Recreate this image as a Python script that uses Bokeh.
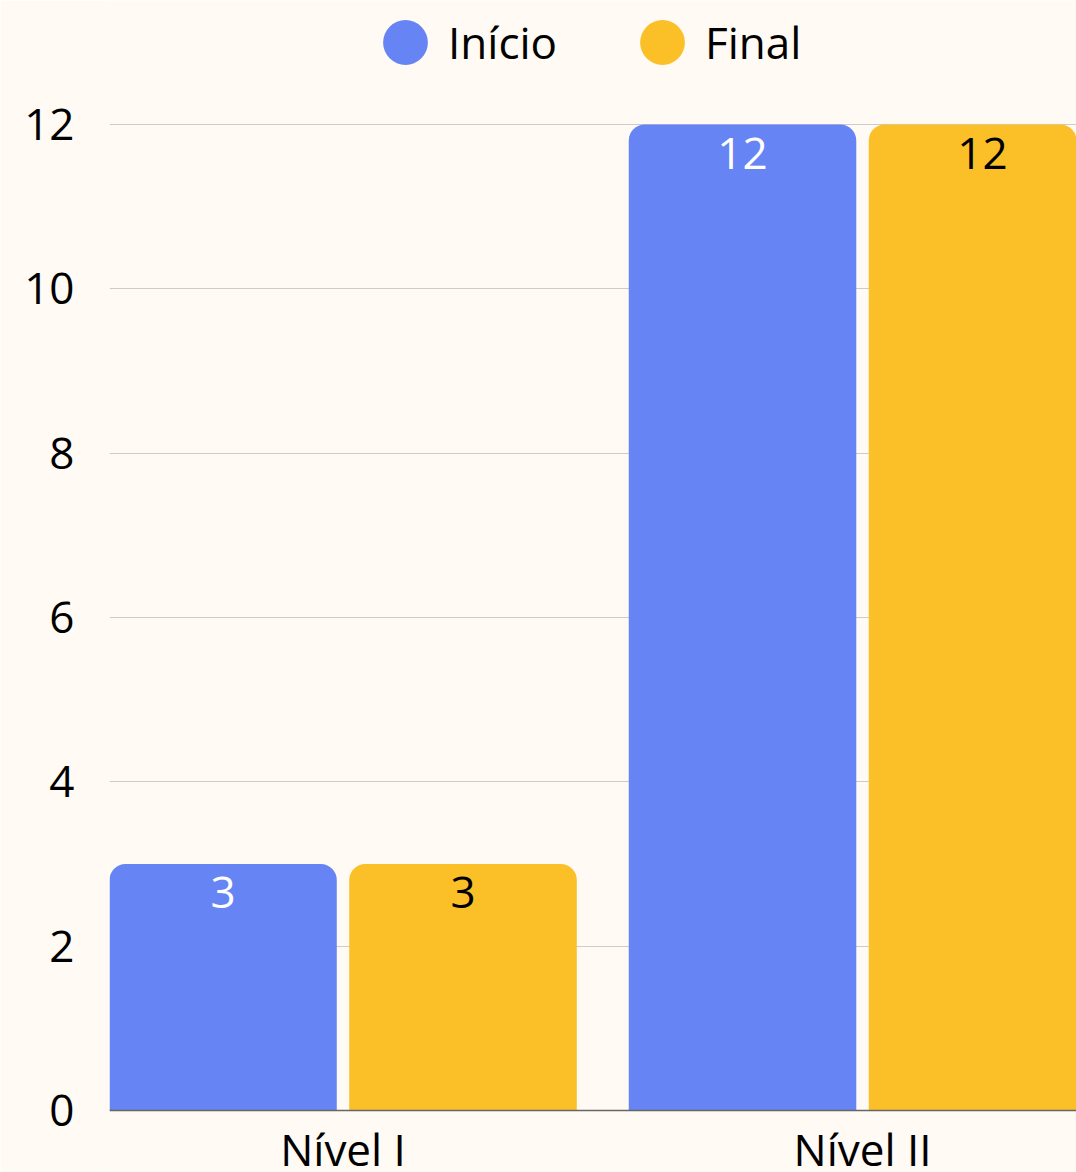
from bokeh.plotting import figure
from bokeh.models import (Range1d, FixedTicker, ColumnDataSource, Legend, LegendItem, Span)
from bokeh.core.properties import value
from bokeh.embed import file_html
from bokeh.resources import INLINE

# ---- data ----
categories = ["Nível I", "Nível II"]
inicio = [3, 12]
final = [3, 12]
series_names = ["Início", "Final"]
y_ticks = [0, 2, 4, 6, 8, 10, 12]

BLUE = "#6784F5"
YELLOW = "#FBBF28"
BG = "#FFFAF3"
FONT = "Open Sans"
FS = "44px"

centers = [i + 0.5 for i in range(len(categories))]
off = 0.231
bw = 0.438
x_inicio = [c - off for c in centers]
x_final = [c + off for c in centers]

p = figure(width=1076, height=1172, output_backend="svg", toolbar_location=None,
           x_range=Range1d(0.0505, 1.9119), y_range=Range1d(-0.7546, 13.509),
           x_axis_type=None, min_border_left=109, min_border_right=0,
           min_border_top=0, min_border_bottom=0)
p.background_fill_color = BG
p.border_fill_color = BG
p.outline_line_color = None
p.xgrid.visible = False
p.ygrid.ticker = FixedTicker(ticks=y_ticks)
p.ygrid.grid_line_color = "#CCCCCC"
p.ygrid.grid_line_width = 1

yax = p.yaxis[0]
yax.ticker = FixedTicker(ticks=y_ticks)
yax.axis_line_color = None
yax.major_tick_line_color = None
yax.minor_tick_line_color = None
yax.major_tick_out = 0
yax.major_tick_in = 0
yax.major_label_standoff = 35
yax.major_label_text_font = FONT
yax.major_label_text_font_size = FS
yax.major_label_text_color = "#000000"

# baseline
p.add_layout(Span(location=0, dimension="width", line_color="#666666", line_width=1.5))

src_i = ColumnDataSource(dict(x=x_inicio, top=inicio, lbl=[str(v) for v in inicio]))
src_f = ColumnDataSource(dict(x=x_final, top=final, lbl=[str(v) for v in final]))

p.vbar(x="x", top="top", bottom=0, width=bw, source=src_i, fill_color=BLUE,
       line_color=None, border_radius=(16, 16, 0, 0))
p.vbar(x="x", top="top", bottom=0, width=bw, source=src_f, fill_color=YELLOW,
       line_color=None, border_radius=(16, 16, 0, 0))

p.text(x="x", y="top", text="lbl", source=src_i, text_align="center",
       text_baseline="alphabetic", y_offset=29, text_color="#FFFFFF",
       text_font=value(FONT), text_font_size=FS)
p.text(x="x", y="top", text="lbl", source=src_f, text_align="center",
       text_baseline="alphabetic", y_offset=29, text_color="#000000",
       text_font=value(FONT), text_font_size=FS)

# category labels
p.text(x=centers, y=[0] * len(centers), text=categories, text_align="center",
       text_baseline="alphabetic", y_offset=39, text_color="#000000",
       text_font=value(FONT), text_font_size=FS)

# legend glyphs: vanishingly small in the plot; the legend draws them at its own size
r_i = p.ellipse(x="x", y="top", width=0.001, height=0.001, width_units="screen",
                height_units="screen", source=src_i, fill_color=BLUE, line_color=None)
r_f = p.ellipse(x="x", y="top", width=0.001, height=0.001, width_units="screen",
                height_units="screen", source=src_f, fill_color=YELLOW, line_color=None)
legend = Legend(items=[LegendItem(label=series_names[0], renderers=[r_i]),
                       LegendItem(label=series_names[1], renderers=[r_f])],
                orientation="horizontal", location=(268, 1100),
                glyph_width=56, glyph_height=56, label_standoff=15,
                spacing=77, padding=0, margin=0,
                label_text_font=FONT, label_text_font_size=FS,
                label_text_color="#000000",
                background_fill_alpha=0, border_line_color=None)
p.add_layout(legend)

open("out.html", "w").write(file_html(p, INLINE))
